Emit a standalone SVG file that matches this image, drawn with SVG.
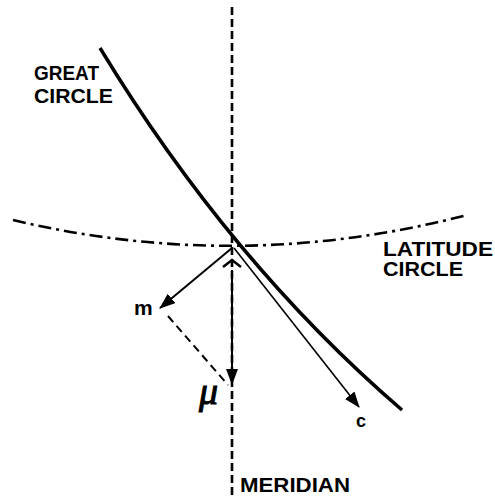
<svg xmlns="http://www.w3.org/2000/svg" width="495" height="499" viewBox="0 0 495 499">
<style>
.lbl{font-family:"Liberation Sans",Arial,sans-serif;font-weight:bold;fill:#000;font-size:21px}
.lat{font-family:"Liberation Sans",Arial,sans-serif;font-weight:bold;fill:#000;font-size:20px}
.sm{font-family:"Liberation Sans",Arial,sans-serif;font-weight:bold;fill:#000}
.ln{fill:none;stroke:#000}
</style>
<defs>
<marker id="ah" markerUnits="userSpaceOnUse" markerWidth="16" markerHeight="12" refX="15" refY="6" orient="auto">
<path d="M0,0 L16,6 L0,12 Z" fill="#000"/>
</marker>
</defs>
<g id="connectors">
<path id="meridian" class="ln" d="M232,7 L232,498" stroke-width="2.6" stroke-dasharray="8 4"/>
<path id="latitude" class="ln" d="M13,220 Q240,274 467,215" stroke-width="2.6" stroke-dasharray="13 5 3 5"/>
<path id="greatcircle" class="ln" d="M100,48 Q230,262 402,410" stroke-width="3.5"/>
<path id="m-arrow" class="ln" d="M232,248 L160,308" stroke-width="2" marker-end="url(#ah)"/>
<path id="mu-arrow" class="ln" d="M232,270 L232,384" stroke-width="2" marker-end="url(#ah)"/>
<path id="c-arrow" class="ln" d="M234,248 L359,407" stroke-width="1.6" marker-end="url(#ah)"/>
<path id="m-mu" class="ln" d="M168,316 L228,385" stroke-width="2" stroke-dasharray="8 5"/>
<path id="angle" class="ln" d="M223,267 L232,260 L241,267" stroke-width="2.5"/>
</g>
<g id="great-circle-label">
<text class="lbl" x="34" y="80" textLength="65" lengthAdjust="spacingAndGlyphs">GREAT</text>
<text class="lbl" x="34" y="103" textLength="79" lengthAdjust="spacingAndGlyphs">CIRCLE</text>
</g>
<g id="latitude-label">
<text class="lat" x="383" y="256" textLength="110" lengthAdjust="spacingAndGlyphs">LATITUDE</text>
<text class="lat" x="383" y="276" textLength="80" lengthAdjust="spacingAndGlyphs">CIRCLE</text>
</g>
<g id="meridian-label">
<text class="lbl" x="240" y="492" textLength="110" lengthAdjust="spacingAndGlyphs">MERIDIAN</text>
</g>
<g id="m-label"><text class="sm" x="134" y="315" font-size="21">m</text></g>
<g id="c-label"><text class="sm" x="356" y="427" font-size="18">c</text></g>
<g id="mu-label"><text x="199" y="404" font-family="Liberation Serif,serif" font-style="italic" font-size="38" stroke="#000" stroke-width="1">μ</text></g>
</svg>
